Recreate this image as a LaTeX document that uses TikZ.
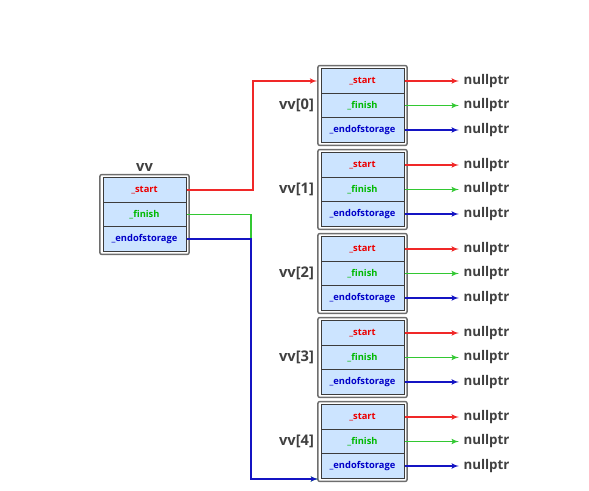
\documentclass[tikz,border=0pt]{standalone}
\usepackage{fontspec}
\setmainfont{Open Sans}
\usetikzlibrary{arrows,fit}
\definecolor{cellfill}{RGB}{204,228,255}
\definecolor{celldraw}{RGB}{60,60,60}
\definecolor{boxdraw}{RGB}{110,110,110}
\definecolor{txtgray}{RGB}{64,64,64}
\definecolor{txtred}{RGB}{235,0,0}
\definecolor{txtgreen}{RGB}{0,185,0}
\definecolor{txtblue}{RGB}{0,0,200}
\definecolor{linered}{RGB}{240,40,40}
\definecolor{linegreen}{RGB}{50,200,50}
\definecolor{lineblue}{RGB}{20,20,195}
\tikzstyle{cell}=[rectangle,
                  draw=celldraw,
                  fill=cellfill,
                  line width=.75pt,
                  minimum width=62.25pt,
                  minimum height=18.4pt,
                  inner sep=0pt,
                  font=\fontsize{7}{8}\selectfont\bfseries]
\tikzstyle{outer}=[rectangle,
                   rounded corners=1.5pt,
                   draw=boxdraw,
                   line width=1.1pt,
                   inner sep=2pt]
\tikzstyle{vvlabel}=[text=txtgray,
                     font=\fontsize{11}{12}\selectfont\bfseries]
\tikzstyle{nul}=[node distance=93pt,
                 text=txtgray,
                 font=\fontsize{10}{12}\selectfont\bfseries]
\tikzstyle{rline}=[draw=linered,line width=.9pt]
\tikzstyle{gline}=[draw=linegreen,line width=.9pt]
\tikzstyle{bline}=[draw=lineblue,line width=.9pt]

\begin{document}
\begin{tikzpicture}[x=.75pt,y=-.75pt,node distance=18.375pt,>=latex']
\useasboundingbox (0,0) rectangle (589,491);
\node (vs) [cell,text=txtred] at (144.5,190) {\_start};
\node (vf) [cell,text=txtgreen,below of=vs] {\_finish};
\node (ve) [cell,text=txtblue,below of=vf] {\_endofstorage};
\node (vb) [outer,fit=(vs)(ve)] {};
\node (vn) [vvlabel,above of=vs,node distance=16.5pt] {vv};

\node (s0) [cell,text=txtred] at (362.5,81) {\_start};
\node (f0) [cell,text=txtgreen,below of=s0] {\_finish};
\node (e0) [cell,text=txtblue,below of=f0] {\_endofstorage};
\node (b0) [outer,fit=(s0)(e0)] {};
\node (l0) [vvlabel,left of=f0,node distance=49.5pt] {vv[0]};
\node (ns0) [nul,right of=s0] {nullptr};
\node (nf0) [nul,right of=f0] {nullptr};
\node (ne0) [nul,right of=e0] {nullptr};
\path[->] (s0) edge[rline] (ns0) (f0) edge[gline] (nf0) (e0) edge[bline] (ne0);

\node (s1) [cell,text=txtred] at (362.5,165) {\_start};
\node (f1) [cell,text=txtgreen,below of=s1] {\_finish};
\node (e1) [cell,text=txtblue,below of=f1] {\_endofstorage};
\node (b1) [outer,fit=(s1)(e1)] {};
\node (l1) [vvlabel,left of=f1,node distance=49.5pt] {vv[1]};
\node (ns1) [nul,right of=s1] {nullptr};
\node (nf1) [nul,right of=f1] {nullptr};
\node (ne1) [nul,right of=e1] {nullptr};
\path[->] (s1) edge[rline] (ns1) (f1) edge[gline] (nf1) (e1) edge[bline] (ne1);

\node (s2) [cell,text=txtred] at (362.5,249) {\_start};
\node (f2) [cell,text=txtgreen,below of=s2] {\_finish};
\node (e2) [cell,text=txtblue,below of=f2] {\_endofstorage};
\node (b2) [outer,fit=(s2)(e2)] {};
\node (l2) [vvlabel,left of=f2,node distance=49.5pt] {vv[2]};
\node (ns2) [nul,right of=s2] {nullptr};
\node (nf2) [nul,right of=f2] {nullptr};
\node (ne2) [nul,right of=e2] {nullptr};
\path[->] (s2) edge[rline] (ns2) (f2) edge[gline] (nf2) (e2) edge[bline] (ne2);

\node (s3) [cell,text=txtred] at (362.5,333) {\_start};
\node (f3) [cell,text=txtgreen,below of=s3] {\_finish};
\node (e3) [cell,text=txtblue,below of=f3] {\_endofstorage};
\node (b3) [outer,fit=(s3)(e3)] {};
\node (l3) [vvlabel,left of=f3,node distance=49.5pt] {vv[3]};
\node (ns3) [nul,right of=s3] {nullptr};
\node (nf3) [nul,right of=f3] {nullptr};
\node (ne3) [nul,right of=e3] {nullptr};
\path[->] (s3) edge[rline] (ns3) (f3) edge[gline] (nf3) (e3) edge[bline] (ne3);

\node (s4) [cell,text=txtred] at (362.5,417) {\_start};
\node (f4) [cell,text=txtgreen,below of=s4] {\_finish};
\node (e4) [cell,text=txtblue,below of=f4] {\_endofstorage};
\node (b4) [outer,fit=(s4)(e4)] {};
\node (l4) [vvlabel,left of=f4,node distance=49.5pt] {vv[4]};
\node (ns4) [nul,right of=s4] {nullptr};
\node (nf4) [nul,right of=f4] {nullptr};
\node (ne4) [nul,right of=e4] {nullptr};
\path[->] (s4) edge[rline] (ns4) (f4) edge[gline] (nf4) (e4) edge[bline] (ne4);

\coordinate (redx) at (253,0);
\coordinate (bluex) at (251,0);
\coordinate (vvend) at (318,479);
\draw[->,rline] (vs.east) -| (redx |- s0) -- (b0.west |- s0);
\draw[->,gline] (vf.east) -| (bluex |- vvend) -- (vvend);
\draw[->,bline] (ve.east) -| (bluex |- vvend) -- (vvend);
\end{tikzpicture}
\end{document}
